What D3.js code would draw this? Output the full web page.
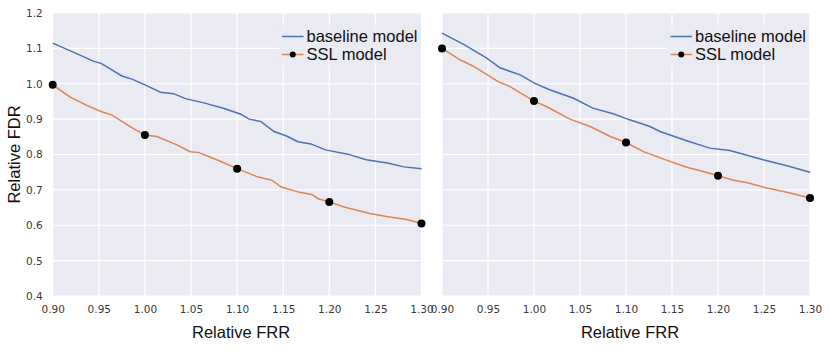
<!DOCTYPE html>
<html>
<head>
<meta charset="utf-8">
<script src="https://cdn.jsdelivr.net/npm/d3@7"></script>
<style>
  body { margin: 0; background: #fff; }
  svg { display: block; }
</style>
</head>
<body>
<svg id="chart" width="830" height="358"></svg>
<script>
// ---- data ----
const xTicks = [0.90, 0.95, 1.00, 1.05, 1.10, 1.15, 1.20, 1.25, 1.30];
const yTicks = [0.4, 0.5, 0.6, 0.7, 0.8, 0.9, 1.0, 1.1, 1.2];
const markerX = [0.90, 1.00, 1.10, 1.20, 1.30];

// left panel
const leftBaseX = [0.900, 0.926, 0.944, 0.953, 0.975, 0.986, 1.000, 1.017, 1.031, 1.044, 1.064, 1.086, 1.104, 1.113, 1.126, 1.140, 1.153, 1.166, 1.180, 1.196, 1.220, 1.240, 1.263, 1.281, 1.300];
const leftBaseY = [1.115, 1.085, 1.064, 1.057, 1.022, 1.013, 0.997, 0.976, 0.972, 0.958, 0.946, 0.930, 0.914, 0.900, 0.893, 0.865, 0.853, 0.836, 0.830, 0.813, 0.801, 0.785, 0.776, 0.765, 0.760];
const leftSslX = [0.900, 0.919, 0.937, 0.953, 0.964, 0.984, 1.000, 1.013, 1.034, 1.049, 1.058, 1.078, 1.100, 1.121, 1.138, 1.148, 1.168, 1.181, 1.188, 1.200, 1.217, 1.244, 1.262, 1.284, 1.300];
const leftSslY = [0.997, 0.962, 0.939, 0.921, 0.912, 0.879, 0.855, 0.851, 0.828, 0.808, 0.806, 0.785, 0.760, 0.738, 0.727, 0.708, 0.693, 0.687, 0.675, 0.666, 0.651, 0.633, 0.625, 0.616, 0.605];
const leftMarkY = [0.997, 0.855, 0.760, 0.666, 0.605];

// right panel
const rightBaseX = [0.900, 0.925, 0.949, 0.963, 0.985, 1.001, 1.017, 1.043, 1.064, 1.086, 1.104, 1.126, 1.137, 1.166, 1.191, 1.213, 1.249, 1.275, 1.300];
const rightBaseY = [1.143, 1.109, 1.072, 1.045, 1.025, 1.001, 0.983, 0.959, 0.931, 0.915, 0.898, 0.879, 0.865, 0.839, 0.818, 0.811, 0.785, 0.768, 0.750];
const rightSslX = [0.900, 0.920, 0.934, 0.961, 0.974, 1.000, 1.014, 1.039, 1.061, 1.083, 1.100, 1.119, 1.141, 1.166, 1.184, 1.200, 1.217, 1.231, 1.253, 1.275, 1.300];
const rightSslY = [1.100, 1.067, 1.050, 1.006, 0.992, 0.951, 0.935, 0.900, 0.879, 0.851, 0.834, 0.808, 0.787, 0.764, 0.752, 0.740, 0.727, 0.721, 0.705, 0.693, 0.677];
const rightMarkY = [1.100, 0.951, 0.834, 0.740, 0.677];

const seriesNames = ["baseline model", "SSL model"];

const blue = "#4c72b0", orange = "#dd8452";
const svg = d3.select("#chart");
const plotTop = 13, plotBottom = 296;

const y = d3.scaleLinear().domain([0.4, 1.2]).range([plotBottom, plotTop]);

const zip = (xs, ys) => xs.map((v, i) => [v, ys[i]]);

const panels = [
  { left: 52.7, right: 421.5, base: zip(leftBaseX, leftBaseY), ssl: zip(leftSslX, leftSslY), marks: zip(markerX, leftMarkY), yLabels: true },
  { left: 442, right: 810, base: zip(rightBaseX, rightBaseY), ssl: zip(rightSslX, rightSslY), marks: zip(markerX, rightMarkY), yLabels: false }
];

panels.forEach(p => {
  const x = d3.scaleLinear().domain([0.9, 1.3]).range([p.left, p.right]);
  const g = svg.append("g");

  g.append("rect")
    .attr("x", p.left).attr("y", plotTop)
    .attr("width", p.right - p.left).attr("height", plotBottom - plotTop)
    .attr("fill", "#eaeaf2");

  // grid
  g.selectAll(".vg").data(xTicks).enter().append("line")
    .attr("x1", d => x(d)).attr("x2", d => x(d))
    .attr("y1", plotTop).attr("y2", plotBottom)
    .attr("stroke", "#fff").attr("stroke-width", 1.2);
  g.selectAll(".hg").data(yTicks).enter().append("line")
    .attr("x1", p.left).attr("x2", p.right)
    .attr("y1", d => y(d)).attr("y2", d => y(d))
    .attr("stroke", "#fff").attr("stroke-width", 1.2);

  // x axis
  const xAxis = d3.axisBottom(x).tickValues(xTicks).tickFormat(d3.format(".2f")).tickSize(0).tickPadding(10);
  g.append("g")
    .attr("transform", `translate(0,${plotBottom})`)
    .call(xAxis)
    .call(a => a.select(".domain").remove())
    .selectAll("text")
      .attr("font-family", "DejaVu Sans, sans-serif")
      .attr("font-size", 10.5)
      .attr("fill", "#3a3a3a");

  if (p.yLabels) {
    const yAxis = d3.axisLeft(y).tickValues(yTicks).tickFormat(d3.format(".1f")).tickSize(0).tickPadding(10);
    g.append("g")
      .attr("transform", `translate(${p.left},0)`)
      .call(yAxis)
      .call(a => a.select(".domain").remove())
      .selectAll("text")
        .attr("font-family", "DejaVu Sans, sans-serif")
        .attr("font-size", 10.5)
        .attr("fill", "#3a3a3a");
  }

  const line = d3.line().x(d => x(d[0])).y(d => y(d[1]));

  g.append("path").datum(p.base)
    .attr("d", line).attr("fill", "none")
    .attr("stroke", blue).attr("stroke-width", 1.5);
  g.append("path").datum(p.ssl)
    .attr("d", line).attr("fill", "none")
    .attr("stroke", orange).attr("stroke-width", 1.5);

  g.selectAll(".mk").data(p.marks).enter().append("circle")
    .attr("cx", d => x(d[0])).attr("cy", d => y(d[1]))
    .attr("r", 4).attr("fill", "#000");

  // x label
  svg.append("text")
    .attr("x", (p.left + p.right) / 2 + 4).attr("y", 338)
    .attr("text-anchor", "middle")
    .attr("font-family", "Liberation Sans, Arial, sans-serif")
    .attr("font-size", 16.5).attr("fill", "#111")
    .text("Relative FRR");

  // legend
  const lg = g.append("g").attr("transform", `translate(${p.right - 143},25)`);
  lg.append("rect")
    .attr("width", 142).attr("height", 40).attr("rx", 3)
    .attr("fill", "#eaeaf2").attr("opacity", 0.8);
  [blue, orange].forEach((c, i) => {
    const yy = 11.5 + i * 18;
    lg.append("line")
      .attr("x1", 3.5).attr("x2", 25).attr("y1", yy).attr("y2", yy)
      .attr("stroke", c).attr("stroke-width", 1.5);
    if (i === 1) lg.append("circle").attr("cx", 14.25).attr("cy", yy).attr("r", 3).attr("fill", "#000");
    lg.append("text")
      .attr("x", 28).attr("y", yy + 5.8)
      .attr("font-family", "Liberation Sans, Arial, sans-serif")
      .attr("font-size", 16.5).attr("fill", "#111")
      .text(seriesNames[i]);
  });
});

svg.append("text")
  .attr("transform", `translate(20,${(plotTop + plotBottom) / 2}) rotate(-90)`)
  .attr("text-anchor", "middle")
  .attr("font-family", "Liberation Sans, Arial, sans-serif")
  .attr("font-size", 16.5).attr("fill", "#111")
  .text("Relative FDR");
</script>
</body>
</html>
